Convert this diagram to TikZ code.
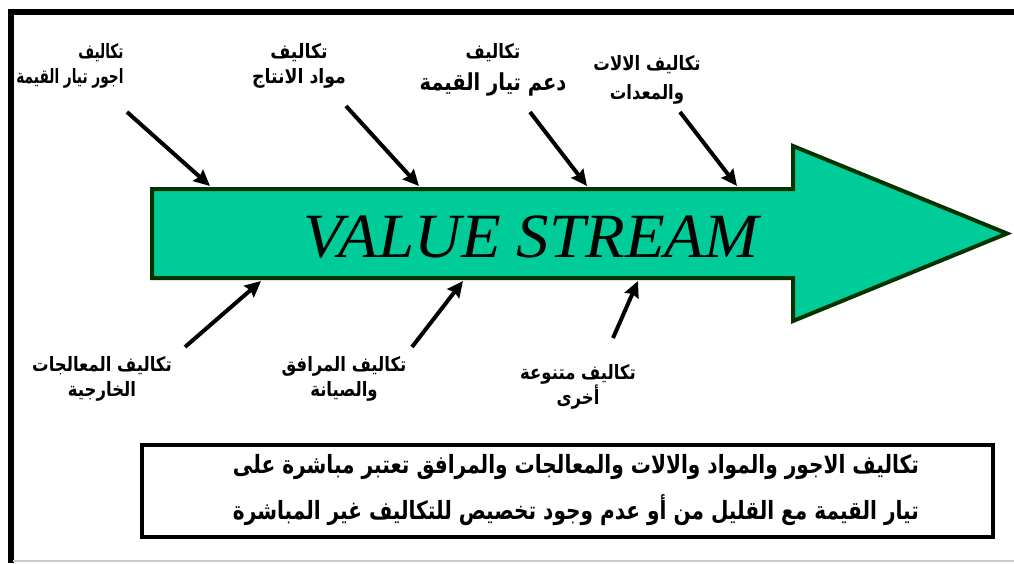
\documentclass[tikz,border=0pt]{standalone}
\usepackage{fontspec}
\setmainfont{Liberation Serif}
\newfontfamily\arabicfont[Script=Arabic]{DejaVu Sans}
\TeXXeTstate=1
\usetikzlibrary{arrows.meta}
\definecolor{streamgreen}{HTML}{00CC99}
\definecolor{darkgreen}{HTML}{003300}
\newcommand{\RL}[1]{\beginR #1\endR}
\newcommand{\arsize}[2]{\arabicfont\bfseries\fontsize{#1}{#2}\selectfont}
\begin{document}
\begin{tikzpicture}[x=1pt,y=-1pt,
  lbl/.style={font=\arsize{16.5}{21}, align=center, inner sep=0pt, yscale=1.2},
  notes/.style={inner sep=0pt, yscale=1.25},
  cost/.style={line width=4pt, -{Stealth[length=16pt,width=15pt,inset=2pt]}, black},
]
\useasboundingbox (0,0) rectangle (1014,563);
\fill[white] (0,0) rectangle (1014,563);
% frame
\draw[line width=6pt] (10.5,563) -- (10.5,11.5) -- (1014,11.5);
\draw[black!20, line width=1.5pt] (13,561) -- (1014,561);

% value stream arrow
\draw[fill=streamgreen, draw=darkgreen, line width=4pt, line join=miter, miter limit=20]
 (152,189) -- (793,189) -- (793,146) -- (1007,233.5) -- (793,321) -- (793,278) -- (152,278) -- cycle;
\node[font=\itshape\fontsize{63}{63}\selectfont, xscale=1.03, anchor=base, inner sep=0pt] (vs) at (531,257) {VALUE STREAM};

% top labels
\node[lbl, align=right, xscale=0.83] (t1) at (70,66) {\RL{تكاليف}\\\RL{اجور تيار القيمة}};
\node[lbl, xscale=1.05] (t2) at (299,66) {\RL{تكاليف}\\\RL{مواد الانتاج}};
\node[lbl, font=\arsize{16.5}{27}] (t3) at (493,70) {\RL{تكاليف}\\{\arsize{19.5}{27}\RL{دعم تيار القيمة}}};
\node[lbl, font=\arsize{16.5}{24}] (t4) at (647,80) {\RL{تكاليف الالات}\\\RL{والمعدات}};

% bottom labels
\node[lbl] (b1) at (102,379) {\RL{تكاليف المعالجات}\\\RL{الخارجية}};
\node[lbl] (b2) at (344,379) {\RL{تكاليف المرافق}\\\RL{والصيانة}};
\node[lbl] (b3) at (578,387) {\RL{تكاليف متنوعة}\\\RL{أخرى}};

% top connector ends
\coordinate (s1) at (127,112); \coordinate (e1) at (210,186);
\coordinate (s2) at (346,106); \coordinate (e2) at (419,186);
\coordinate (s3) at (530,112); \coordinate (e3) at (587,186);
\coordinate (s4) at (680,112); \coordinate (e4) at (737,186);
% bottom connector ends
\coordinate (s5) at (185,347); \coordinate (e5) at (261,281);
\coordinate (s6) at (412,347); \coordinate (e6) at (463,281);
\coordinate (s7) at (613,338); \coordinate (e7) at (638,281);

\foreach \i in {1,...,7} {\draw[cost] (s\i) -- (e\i);}

% note box
\node[draw, line width=4pt, minimum width=851pt, minimum height=92pt, inner sep=0pt] (box) at (567.5,491) {};
\node[notes] (note1) at (576,467)
 {\resizebox{686pt}{!}{\arsize{20}{20}\RL{تكاليف الاجور والمواد والالات والمعالجات والمرافق تعتبر مباشرة على}}};
\node[notes] (note2) at (576,510)
 {\resizebox{686pt}{!}{\arsize{20}{20}\RL{تيار القيمة مع القليل من أو عدم وجود تخصيص للتكاليف غير المباشرة}}};
\end{tikzpicture}
\end{document}
